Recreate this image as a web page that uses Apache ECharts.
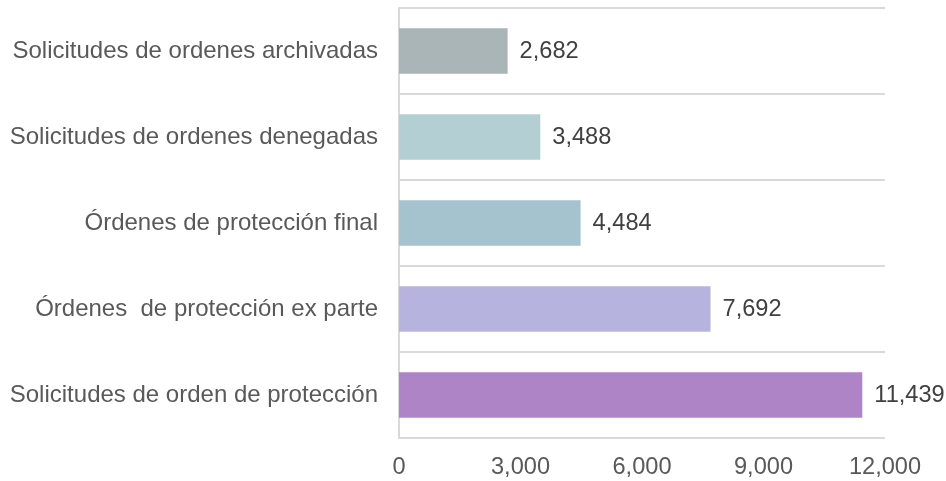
<!DOCTYPE html>
<html>
<head>
<meta charset="utf-8">
<script src="https://cdn.jsdelivr.net/npm/echarts@6/dist/echarts.min.js"></script>
<style>
  html, body { margin: 0; padding: 0; background: #fff; }
  #figureWrapper { width: 946px; height: 481px; }
</style>
</head>
<body>
<div id="figureWrapper"></div>
<script>
// categories top to bottom
const categories = [
  'Solicitudes de ordenes archivadas',
  'Solicitudes de ordenes denegadas',
  'Órdenes de protección final',
  'Órdenes  de protección ex parte',
  'Solicitudes de orden de protección'
];
const values = [2682, 3488, 4484, 7692, 11439];
const bar_colors = ['#a9b5b6', '#b4cfd4', '#a5c2cf', '#b6b4de', '#ae84c6'];
const x_ticks = [0, 3000, 6000, 9000, 12000];

const font_size = 23.6;

function fmt(v){
  return Number(v).toLocaleString('en-US');
}

let myChart = echarts.init(document.getElementById('figureWrapper'), null, { renderer: 'canvas' });

let option = {
  animation: false,
  textStyle: { fontFamily: 'Liberation Sans, Arial, sans-serif' },
  grid: { left: 399, right: 61, top: 8, bottom: 43, containLabel: false },
  xAxis: {
    type: 'value',
    min: x_ticks[0],
    max: x_ticks[x_ticks.length - 1],
    interval: 3000,
    axisLine: { show: false },
    axisTick: { show: false },
    splitLine: { show: false },
    axisLabel: {
      color: '#595959',
      fontSize: font_size,
      margin: 17,
      formatter: (v) => fmt(v)
    }
  },
  yAxis: {
    type: 'category',
    inverse: true,
    data: categories,
    axisLine: { show: true, lineStyle: { color: '#d9d9d9', width: 2 } },
    axisTick: { show: false },
    splitLine: { show: true, lineStyle: { color: '#d9d9d9', width: 2 } },
    axisLabel: {
      color: '#595959',
      fontSize: 24,
      margin: 21
    }
  },
  series: [
    {
      type: 'bar',
      barWidth: '53%',
      data: values.map((v, i) => ({ value: v, itemStyle: { color: bar_colors[i] } })),
      label: {
        show: true,
        position: 'right',
        distance: 12,
        color: '#404040',
        fontSize: font_size,
        formatter: (p) => fmt(p.value)
      }
    }
  ]
};

myChart.setOption(option);

window.addEventListener('resize', function() {
  myChart.resize();
});
</script>
</body>
</html>
